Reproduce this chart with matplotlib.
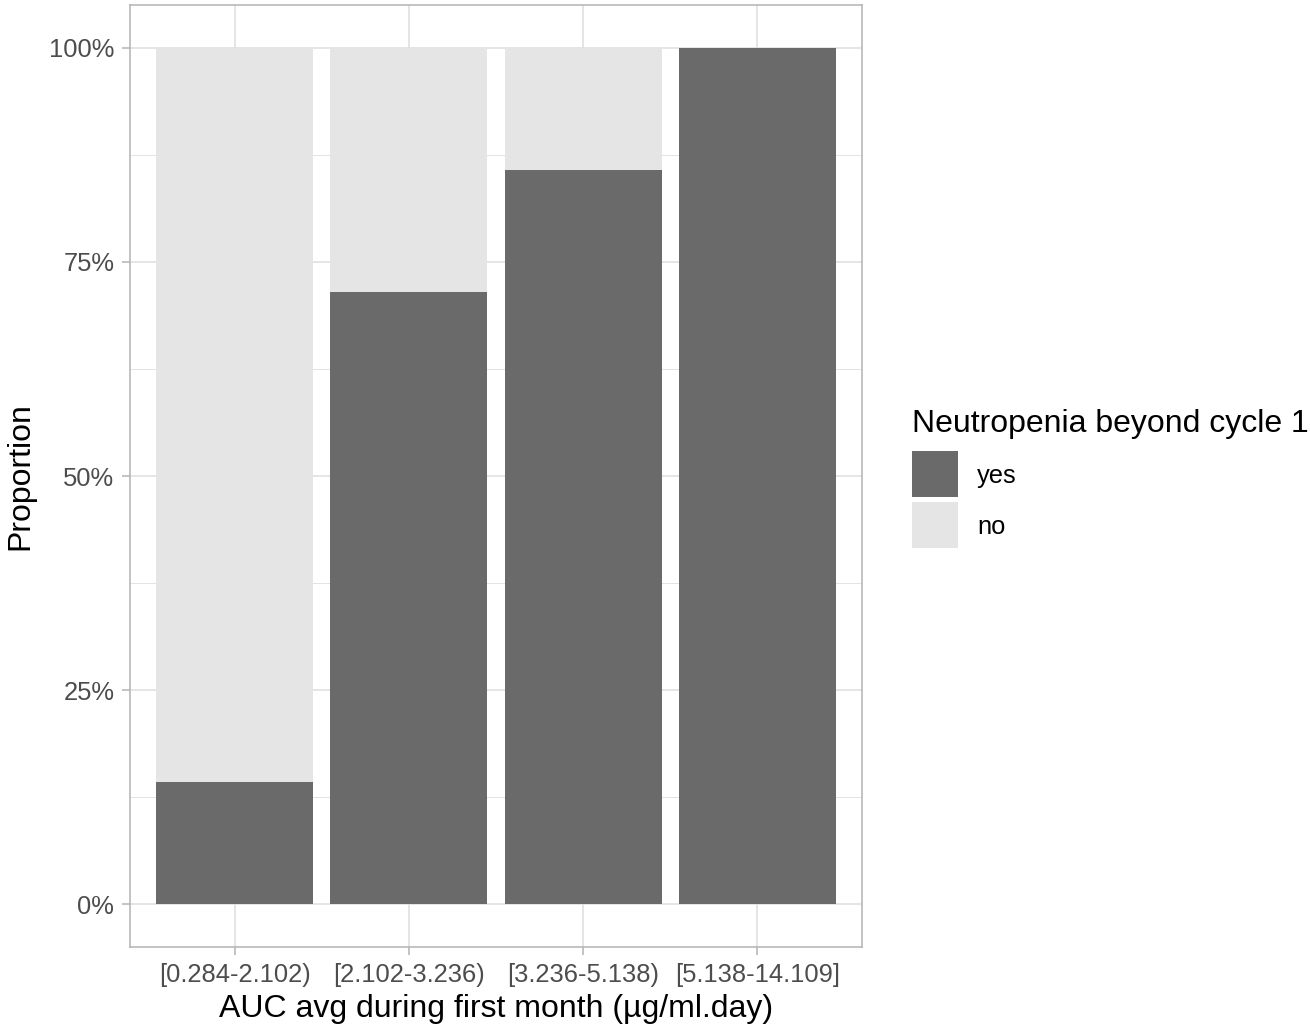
import matplotlib
matplotlib.use("Agg")
import matplotlib.pyplot as plt
from matplotlib.patches import Rectangle
import numpy as np

categories = ["[0.284-2.102)", "[2.102-3.236)", "[3.236-5.138)", "[5.138-14.109]"]
yes_prop = [1/7, 5/7, 6/7, 1.0]
no_prop = [1 - v for v in yes_prop]
legend_labels = ["yes", "no"]
y_ticks = [0, 0.25, 0.5, 0.75, 1.0]
y_tick_labels = ["0%", "25%", "50%", "75%", "100%"]

c_yes = "#6a6a6a"
c_no = "#e5e5e5"

plt.rcParams['font.family'] = ['Liberation Sans', 'DejaVu Sans']

W, H = 1310, 1026
fig = plt.figure(figsize=(W/100, H/100), dpi=100)
ax = fig.add_axes([130/W, 1 - 947/H, (862-130)/W, (947-5)/H])

x = np.arange(len(categories))
ax.bar(x, yes_prop, width=0.9, color=c_yes, zorder=3, linewidth=0)
ax.bar(x, no_prop, bottom=yes_prop, width=0.9, color=c_no, zorder=3, linewidth=0)

ax.set_xlim(-0.6, len(categories) - 1 + 0.6)
ax.set_ylim(-0.05, 1.05)
ax.set_xticks(x)
ax.set_xticklabels(categories)
ax.set_yticks(y_ticks)
ax.set_yticklabels(y_tick_labels)
ax.set_yticks([0.125, 0.375, 0.625, 0.875], minor=True)

ax.grid(True, which='major', color='#dedede', linewidth=1.1, zorder=0)
ax.grid(True, which='minor', axis='y', color='#dedede', linewidth=0.6, zorder=0)
ax.set_axisbelow(True)

for s in ax.spines.values():
    s.set_color('#b3b3b3')
    s.set_linewidth(1.1)

ax.tick_params(axis='both', which='major', length=5.8, width=1.1, color='#b3b3b3',
               labelsize=18.4, labelcolor='#4d4d4d', pad=5.5)
ax.tick_params(axis='x', which='major', pad=6)
ax.tick_params(axis='both', which='minor', length=0)

ax.set_xlabel("AUC avg during first month (µg/ml.day)", fontsize=23, color='black', labelpad=5)
ax.set_ylabel("Proportion", fontsize=23, color='black', labelpad=10)

# legend drawn manually
fig.text(912/W, 1 - 424/H, "Neutropenia beyond cycle 1", fontsize=23, ha='left', va='center', color='black')
keys = [(451, c_yes), (502, c_no)]
for (ytop, col), lab in zip(keys, legend_labels):
    fig.patches.append(Rectangle((912/W, 1 - (ytop+46)/H), 46/W, 46/H,
                                 transform=fig.transFigure, facecolor=col, edgecolor='none'))
    fig.text(977/W, 1 - (ytop+25)/H, lab, fontsize=18.4, ha='left', va='center', color='black')

fig.savefig("out.png", dpi=100)
